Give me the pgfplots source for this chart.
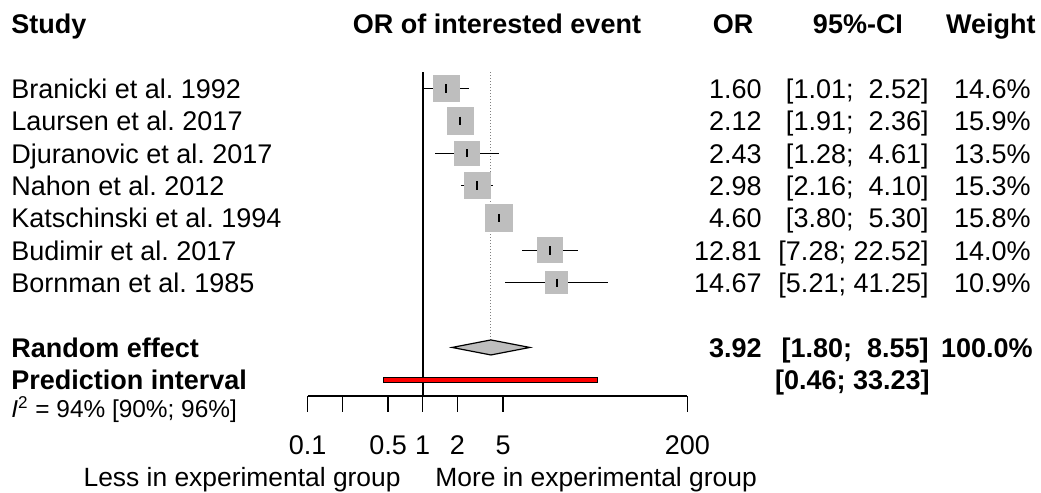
\documentclass[border=0pt]{standalone}
\usepackage{pgfplots}
\pgfplotsset{compat=1.18}
\usepackage{pgfplotstable}
\usepackage{fontspec}
\setmainfont{Liberation Sans}
\definecolor{rgray}{HTML}{BEBEBE}

% row  OR  lower  upper  weight(%)
\pgfplotstableread{
row est lo hi w
1 1.60 1.01 2.52 14.6
2 2.12 1.91 2.36 15.9
3 2.43 1.28 4.61 13.5
4 2.98 2.16 4.10 15.3
5 4.60 3.80 5.30 15.8
6 12.81 7.28 22.52 14.0
7 14.67 5.21 41.25 10.9
}\studies

\begin{document}
\frenchspacing
\begin{tikzpicture}[x=0.5pt, y=-0.5pt, font=\fontsize{13.5}{16}\selectfont]
\useasboundingbox (0,0) rectangle (1041,493);
\begin{axis}[
    at={(153.85pt,-198pt)}, anchor=south west,
    scale only axis, width=189.8pt, height=161.85pt,
    xmode=log, xmin=0.1, xmax=200,
    ymin=-10.5, ymax=-0.5,
    axis x line*=bottom, axis y line=none,
    xtick={0.1,0.2,0.5,1,2,5,200},
    xticklabels={0.1,,0.5,1,2,5,200},
    xminorticks=false,
    tick align=outside, major tick length=7.85pt,
    xticklabel style={anchor=base, yshift=-21.15pt},
    every tick/.style={black, line width=0.65pt},
    axis line style={line width=0.65pt},
    clip=false,
]
% reference line and pooled estimate
\addplot[black, line width=1pt] coordinates {(1,-0.5) (1,-10.5)};
\addplot[black!50, densely dotted, line width=0.5pt] coordinates {(3.92,-0.5) (3.92,-8.77)};
% study squares, side proportional to sqrt(weight)
\addplot[scatter, only marks, mark=square*,
    scatter/use mapped color={draw=rgray, fill=rgray},
    visualization depends on={1.67*sqrt(\thisrow{w}) \as \msize},
    scatter/@pre marker code/.append style={/tikz/mark size=\msize}]
    table[x=est, y expr=-\thisrow{row}] {\studies};
% confidence intervals with point estimate tick
\addplot[only marks, mark=|, mark size=2.1pt,
    mark options={black, line width=0.9pt},
    error bars/.cd, x dir=both, x explicit, error mark=none,
    error bar style={black, line width=0.7pt}]
    table[x=est, y expr=-\thisrow{row},
          x error plus expr=\thisrow{hi}-\thisrow{est},
          x error minus expr=\thisrow{est}-\thisrow{lo}] {\studies};
% random effect diamond
\addplot[fill=rgray, draw=black, line width=0.6pt] coordinates
    {(1.80,-9) (3.92,-8.768) (8.55,-9) (3.92,-9.232) (1.80,-9)} -- cycle;
% prediction interval
\addplot[fill=red, draw=black, line width=0.5pt] coordinates
    {(0.46,-9.925) (33.23,-9.925) (33.23,-10.075) (0.46,-10.075)} -- cycle;
\end{axis}

% headers and bold rows
\begin{scope}[every node/.style={inner sep=0pt, font=\fontsize{13.5}{16}\selectfont\bfseries}]
\node[anchor=base west] at (11,33.7) {Study};
\node[anchor=base] at (497,33.7) {OR of interested event};
\node[anchor=base] at (733,33.7) {OR};
\node[anchor=base] at (858,33.7) {95\%-CI};
\node[anchor=base east] at (1036,33.7) {Weight};
\node[anchor=base west] at (11,357) {Random effect};
\node[anchor=base west] at (11,389.4) {Prediction interval};
\node[anchor=base east] at (762,357) {3.92};
\node[anchor=base east] at (929,357) {[1.80;\ \ 8.55]};
\node[anchor=base east] at (1033,357) {100.0\%};
\node[anchor=base east] at (930,389.4) {[0.46;\ 33.23]};
\end{scope}

\begin{scope}[every node/.style={inner sep=0pt}]
\node[anchor=base west] at (11,98.4) {Branicki et al. 1992};
\node[anchor=base west] at (11,130.7) {Laursen et al. 2017};
\node[anchor=base west] at (11,163.1) {Djuranovic et al. 2017};
\node[anchor=base west] at (11,195.4) {Nahon et al. 2012};
\node[anchor=base west] at (11,227.7) {Katschinski et al. 1994};
\node[anchor=base west] at (11,260.0) {Budimir et al. 2017};
\node[anchor=base west] at (11,292.4) {Bornman et al. 1985};

\node[anchor=base east] at (762,98.4) {1.60};
\node[anchor=base east] at (762,130.7) {2.12};
\node[anchor=base east] at (762,163.1) {2.43};
\node[anchor=base east] at (762,195.4) {2.98};
\node[anchor=base east] at (762,227.7) {4.60};
\node[anchor=base east] at (762,260.0) {12.81};
\node[anchor=base east] at (762,292.4) {14.67};

\node[anchor=base east] at (929,98.4) {[1.01;\ \ 2.52]};
\node[anchor=base east] at (929,130.7) {[1.91;\ \ 2.36]};
\node[anchor=base east] at (929,163.1) {[1.28;\ \ 4.61]};
\node[anchor=base east] at (929,195.4) {[2.16;\ \ 4.10]};
\node[anchor=base east] at (929,227.7) {[3.80;\ \ 5.30]};
\node[anchor=base east] at (929,260.0) {[7.28;\ 22.52]};
\node[anchor=base east] at (929,292.4) {[5.21;\ 41.25]};

\node[anchor=base east] at (1031,98.4) {14.6\%};
\node[anchor=base east] at (1031,130.7) {15.9\%};
\node[anchor=base east] at (1031,163.1) {13.5\%};
\node[anchor=base east] at (1031,195.4) {15.3\%};
\node[anchor=base east] at (1031,227.7) {15.8\%};
\node[anchor=base east] at (1031,260.0) {14.0\%};
\node[anchor=base east] at (1031,292.4) {10.9\%};

\node[anchor=base west, font=\fontsize{12.2}{14}\selectfont] at (11,417.5)
    {\textit{I}\textsuperscript{2} = 94\% [90\%; 96\%]};
\node[anchor=base east, font=\fontsize{13.2}{16}\selectfont] at (401,486.7) {Less in experimental group};
\node[anchor=base west, font=\fontsize{13.2}{16}\selectfont] at (435,486.7) {More in experimental group};
\end{scope}
\end{tikzpicture}
\end{document}
